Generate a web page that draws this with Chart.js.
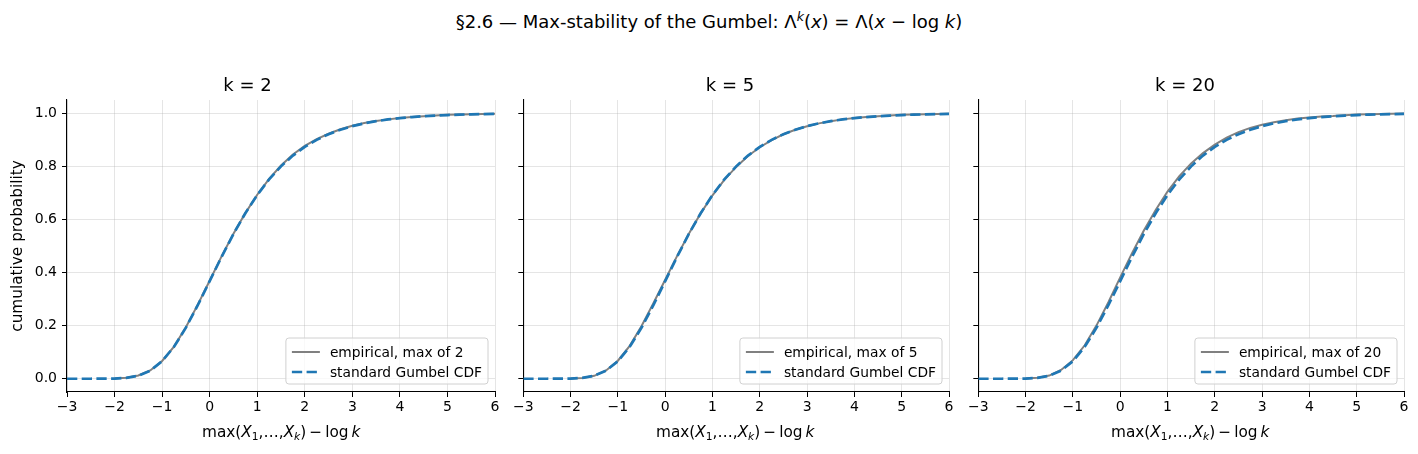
<!DOCTYPE html>
<html><head><meta charset="utf-8">
<script src="https://cdn.jsdelivr.net/npm/chart.js@4.4.1/dist/chart.umd.min.js"></script>
<style>
html,body{margin:0;padding:0;background:#fff;width:1418px;height:454px;overflow:hidden;font-family:'DejaVu Sans',sans-serif;}
canvas{position:absolute;}
.t{position:absolute;color:#000;white-space:nowrap;font-family:'DejaVu Sans',sans-serif;}
.sup{font-size:70%;position:relative;top:-0.55em;}
.sub{font-size:70%;position:relative;top:0.3em;}
</style></head>
<body>
<div class="t" style="left:0;width:1418px;top:11px;text-align:center;font-size:18px;">§2.6 — Max-stability of the Gumbel: Λ<span class="sup"><i>k</i></span>(<i>x</i>) = Λ(<i>x</i> − log <i>k</i>)</div>
<canvas id="c0"></canvas><canvas id="c1"></canvas><canvas id="c2"></canvas>
<div class="t" id="xl0" style="top:423px;font-size:15.3px;"></div>
<div class="t" id="xl1" style="top:423px;font-size:15.3px;"></div>
<div class="t" id="xl2" style="top:423px;font-size:15.3px;"></div>
<script>
// ---- data ----
const panelTitles = ['k = 2', 'k = 5', 'k = 20'];
const kValues = [2, 5, 20];
const xTicks = [-3, -2, -1, 0, 1, 2, 3, 4, 5, 6];
const yTicks = [0, 0.2, 0.4, 0.6, 0.8, 1.0];

const gumbelX = [-3,-2.75,-2.5,-2.25,-2,-1.75,-1.5,-1.25,-1,-0.75,-0.5,-0.25,0,0.25,0.5,0.75,1,1.25,1.5,1.75,2,2.25,2.5,2.75,3,3.25,3.5,3.75,4,4.25,4.5,4.75,5,5.25,5.5,5.75,6];
const gumbelY = [0,0,0,0.0001,0.0006,0.0032,0.0113,0.0305,0.066,0.1204,0.1923,0.2769,0.3679,0.459,0.5452,0.6235,0.6922,0.7509,0.8,0.8405,0.8734,0.9,0.9212,0.9381,0.9514,0.962,0.9702,0.9768,0.9819,0.9858,0.989,0.9914,0.9933,0.9948,0.9959,0.9968,0.9975];

const empX = [-2,-1.75,-1.5,-1.25,-1,-0.75,-0.5,-0.25,0,0.25,0.5,0.75,1,1.25,1.5,1.75,2,2.25,2.5,2.75,3,3.25,3.5,3.75,4,4.25,4.5,4.75,5,5.25,5.5,5.75,6];
const empK2 = [0.001,0.004,0.012,0.031,0.067,0.121,0.194,0.279,0.369,0.461,0.546,0.624,0.693,0.753,0.803,0.845,0.877,0.903,0.923,0.94,0.953,0.963,0.971,0.977,0.982,0.986,0.989,0.992,0.994,0.995,0.996,0.997,0.998];
const empK5 = [0.001,0.003,0.011,0.031,0.068,0.124,0.199,0.284,0.373,0.462,0.546,0.623,0.691,0.749,0.798,0.839,0.872,0.899,0.921,0.938,0.951,0.962,0.97,0.977,0.982,0.986,0.989,0.992,0.994,0.995,0.996,0.997,0.998];
const empK20 = [0.001,0.004,0.012,0.033,0.07,0.126,0.201,0.288,0.382,0.473,0.558,0.636,0.705,0.763,0.811,0.85,0.882,0.908,0.929,0.945,0.957,0.966,0.974,0.98,0.984,0.988,0.99,0.993,0.995,0.996,0.997,0.998,0.999];
const empSeries = [empK2, empK5, empK20];

// ---- layout ----
Chart.defaults.font.family = "'DejaVu Sans', sans-serif";
Chart.defaults.color = '#000';
const FONT_PX = 14;
const panels = [
  {left: 0, yw: 67, showY: true},
  {left: 511, yw: 10, showY: false},
  {left: 966, yw: 10, showY: false}
];
const PLOT_W = 428, CANVAS_TOP = 74, CANVAS_H = 380, XH = 62, PAD_R = 10;

const legendPlugin = {
  id: 'inlegend',
  afterDatasetsDraw(chart) {
    const ctx = chart.ctx, a = chart.chartArea;
    const items = chart.data.datasets.slice().sort((p, q) => (p.legendIndex - q.legendIndex));
    ctx.save();
    ctx.font = "13.8px 'DejaVu Sans'";
    let tw = 0;
    items.forEach(d => { tw = Math.max(tw, ctx.measureText(d.label).width); });
    const w = 44 + tw + 6, h = 46;
    const x0 = a.right - 7 - w, y0 = a.bottom - 8 - h;
    ctx.beginPath();
    ctx.roundRect(x0, y0, w, h, 3);
    ctx.fillStyle = 'rgba(255,255,255,0.8)';
    ctx.fill();
    ctx.strokeStyle = '#d0d0d0';
    ctx.lineWidth = 1;
    ctx.stroke();
    items.forEach((d, i) => {
      const yy = y0 + 14 + i * 20;
      ctx.beginPath();
      ctx.strokeStyle = d.borderColor;
      ctx.lineWidth = d.borderWidth;
      ctx.setLineDash(d.borderDash || []);
      ctx.moveTo(x0 + 6, yy); ctx.lineTo(x0 + 34, yy);
      ctx.stroke();
      ctx.setLineDash([]);
      ctx.fillStyle = '#000';
      ctx.textBaseline = 'middle';
      ctx.fillText(d.label, x0 + 44, yy + 1);
    });
    ctx.restore();
  }
};

panels.forEach((p, i) => {
  const cv = document.getElementById('c' + i);
  const cw = p.yw + PLOT_W + PAD_R;
  cv.width = cw; cv.height = CANVAS_H;
  cv.style.left = p.left + 'px'; cv.style.top = CANVAS_TOP + 'px';
  cv.style.width = cw + 'px'; cv.style.height = CANVAS_H + 'px';

  const emp = empSeries[i];
  new Chart(cv, {
    type: 'line',
    data: {
      datasets: [
        {
          label: 'standard Gumbel CDF', legendIndex: 1, order: 0,
          data: gumbelX.map((x, j) => ({x, y: gumbelY[j]})),
          borderColor: '#1f77b4', borderWidth: 2.7, borderDash: [10.3, 4.4],
          pointRadius: 0, tension: 0, fill: false
        },
        {
          label: 'empirical, max of ' + kValues[i], legendIndex: 0, order: 1,
          data: empX.map((x, j) => ({x, y: emp[j]})),
          borderColor: '#808080', borderWidth: 2, pointRadius: 0, tension: 0, fill: false
        }
      ]
    },
    options: {
      responsive: false, animation: false, devicePixelRatio: 1,
      layout: {padding: {left: 0, right: PAD_R, top: 0, bottom: 0}},
      plugins: {
        legend: {display: false}, tooltip: {enabled: false},
        title: {display: true, text: panelTitles[i], color: '#000',
          font: {size: 18, weight: 'normal'}, padding: {top: 2, bottom: 2.4}}
      },
      scales: {
        x: {
          type: 'linear', min: -3, max: 6,
          afterBuildTicks: s => { s.ticks = xTicks.map(v => ({value: v})); },
          afterFit: s => { s.height = XH; },
          ticks: {font: {size: FONT_PX}, color: '#000', padding: 2, maxRotation: 0,
            callback: v => (v < 0 ? '\u2212' + Math.abs(v) : String(v))},
          grid: {color: 'rgba(176,176,176,0.33)', lineWidth: 1, tickColor: '#000', tickLength: 5, drawTicks: true},
          border: {color: '#000', width: 1.1}
        },
        y: {
          type: 'linear', min: -0.05, max: 1.05,
          afterBuildTicks: s => { s.ticks = yTicks.map(v => ({value: v})); },
          afterFit: s => { s.width = p.yw; },
          ticks: {display: p.showY, font: {size: FONT_PX}, color: '#000', padding: 5,
            callback: v => v.toFixed(1)},
          title: {display: p.showY, text: 'cumulative probability', color: '#000',
            font: {size: 15.3}, padding: {top: 9, bottom: 0}},
          grid: {color: 'rgba(176,176,176,0.33)', lineWidth: 1, tickColor: '#000', tickLength: 5, drawTicks: true},
          border: {color: '#000', width: 1.1}
        }
      }
    },
    plugins: [legendPlugin]
  });

  const xl = document.getElementById('xl' + i);
  xl.innerHTML = 'max(<i>X</i><span class="sub">1</span>,…,<i>X</i><span class="sub"><i>k</i></span>)&thinsp;−&thinsp;log&thinsp;<i>k</i>';
  const center = p.left + p.yw + PLOT_W / 2;
  xl.style.left = (center - xl.offsetWidth / 2) + 'px';
});
</script>
</body></html>
